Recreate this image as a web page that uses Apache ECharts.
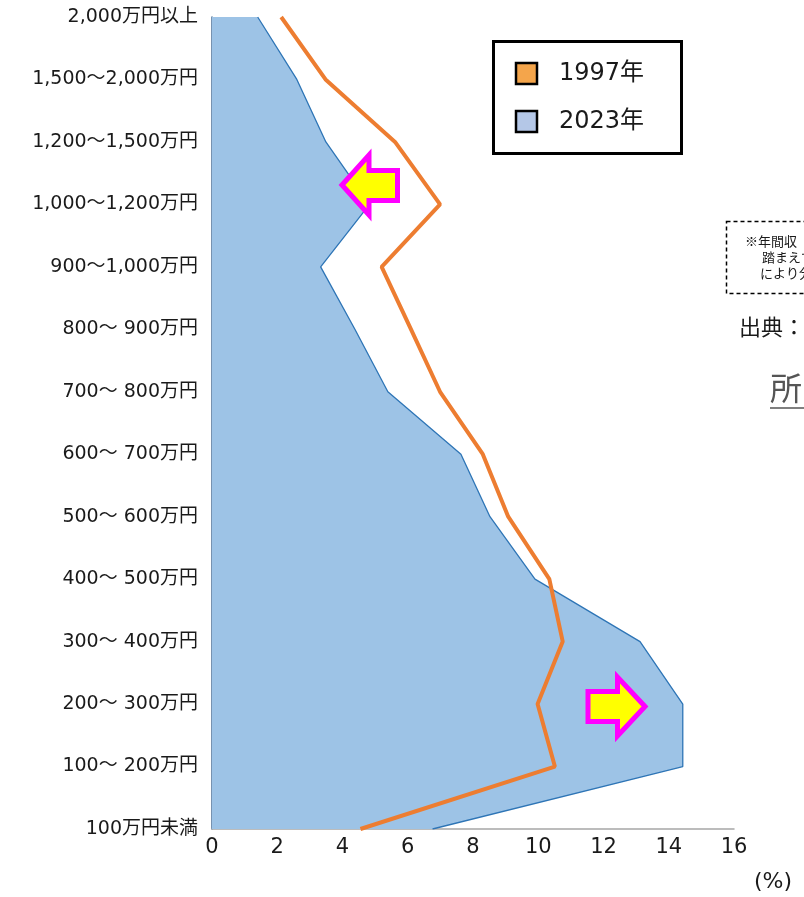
<!DOCTYPE html>
<html>
<head>
<meta charset="utf-8">
<script src="https://cdn.jsdelivr.net/npm/echarts@6/dist/echarts.min.js"></script>
<style>
html,body{margin:0;padding:0;background:#fff;}
#c{width:804px;height:897px;}
</style>
</head>
<body>
<div id="c"></div>
<script>
const categories = ['100万円未満','100～ 200万円','200～ 300万円','300～ 400万円','400～ 500万円','500～ 600万円','600～ 700万円','700～ 800万円','800～ 900万円','900～1,000万円','1,000～1,200万円','1,200～1,500万円','1,500～2,000万円','2,000万円以上'];
const values1997 = [4.55, 10.51, 9.98, 10.75, 10.34, 9.08, 8.30, 6.99, 6.10, 5.20, 6.99, 5.61, 3.48, 2.12];
const values2023 = [6.76, 14.43, 14.43, 13.12, 9.90, 8.52, 7.63, 5.39, 4.38, 3.33, 4.83, 3.49, 2.60, 1.40];
const xTicks = {min: 0, max: 16, interval: 2};

const chart = echarts.init(document.getElementById('c'));
const latin = '"DejaVu Sans", "Noto Sans CJK JP", sans-serif';
chart.setOption({
  animation: false,
  grid: {left: 212, right: 70, top: 17, bottom: 68, containLabel: false},
  xAxis: {
    type: 'value', min: xTicks.min, max: xTicks.max, interval: xTicks.interval,
    axisLine: {show: true, lineStyle: {color: '#a6a6a6', width: 1.5}},
    axisTick: {show: false},
    splitLine: {show: false},
    axisLabel: {color: '#1a1a1a', fontSize: 21, fontFamily: latin, margin: 8}
  },
  yAxis: {
    type: 'category', data: categories, boundaryGap: false,
    axisLine: {show: true, lineStyle: {color: '#4a6e96', width: 1.5}},
    axisTick: {show: false},
    splitLine: {show: false},
    axisLabel: {color: '#1a1a1a', fontSize: 19, fontFamily: latin, margin: 14}
  },
  series: [
    {
      name: '2023年', type: 'line', data: values2023, symbol: 'none',
      lineStyle: {color: '#2e75b6', width: 1.3},
      areaStyle: {color: '#9dc3e6', opacity: 1},
      z: 2
    },
    {
      name: '1997年', type: 'line', data: values1997, symbol: 'none',
      lineStyle: {color: '#ed7d31', width: 4},
      z: 3
    }
  ],
  graphic: [
    // legend box
    {type: 'rect', shape: {x: 493.5, y: 41.5, width: 188, height: 112}, style: {fill: '#fff', stroke: '#000', lineWidth: 3}, z: 10},
    {type: 'rect', shape: {x: 516, y: 63, width: 21, height: 21}, style: {fill: '#f4a54b', stroke: '#000', lineWidth: 2.5}, z: 11},
    {type: 'text', x: 559, y: 74, style: {text: '1997年', fill: '#1a1a1a', font: '24px "DejaVu Sans", "Noto Sans CJK JP"', textVerticalAlign: 'middle'}, z: 11},
    {type: 'rect', shape: {x: 516, y: 111, width: 21, height: 21}, style: {fill: '#b4c7e7', stroke: '#000', lineWidth: 2.5}, z: 11},
    {type: 'text', x: 559, y: 122, style: {text: '2023年', fill: '#1a1a1a', font: '24px "DejaVu Sans", "Noto Sans CJK JP"', textVerticalAlign: 'middle'}, z: 11},
    // arrows
    {type: 'polygon', shape: {points: [[342,185],[369,155],[369,170.5],[397.5,170.5],[397.5,200.5],[369,200.5],[369,215]]}, style: {fill: '#ffff00', stroke: '#ff00ff', lineWidth: 5, lineJoin: 'miter'}, z: 12},
    {type: 'polygon', shape: {points: [[645,706.5],[617.5,677],[617.5,691.5],[588,691.5],[588,721.5],[617.5,721.5],[617.5,736]]}, style: {fill: '#ffff00', stroke: '#ff00ff', lineWidth: 5, lineJoin: 'miter'}, z: 12},
    // unit
    {type: 'text', x: 754, y: 882, style: {text: '(%)', fill: '#1a1a1a', font: '22px "DejaVu Sans"', textVerticalAlign: 'middle'}, z: 11},
    // cut-off note box at right
    {type: 'rect', shape: {x: 726.5, y: 221.5, width: 90, height: 72}, style: {fill: 'none', stroke: '#000', lineWidth: 1.5, lineDash: [4, 3]}, z: 11},
    {type: 'text', x: 745, y: 241, style: {text: '※年間収', fill: '#1a1a1a', font: '13px "Noto Sans CJK JP"', textVerticalAlign: 'middle'}, z: 11},
    {type: 'text', x: 762, y: 257, style: {text: '踏まえて', fill: '#1a1a1a', font: '13px "Noto Sans CJK JP"', textVerticalAlign: 'middle'}, z: 11},
    {type: 'text', x: 760, y: 273, style: {text: 'により分', fill: '#1a1a1a', font: '13px "Noto Sans CJK JP"', textVerticalAlign: 'middle'}, z: 11},
    {type: 'text', x: 739, y: 327, style: {text: '出典：', fill: '#1a1a1a', font: '22px "Noto Sans CJK JP"', textVerticalAlign: 'middle'}, z: 11},
    {type: 'text', x: 770, y: 388, style: {text: '所', fill: '#555', font: '32px "Noto Sans CJK JP"', textVerticalAlign: 'middle'}, z: 11},
    {type: 'line', shape: {x1: 770, y1: 408, x2: 804, y2: 408}, style: {stroke: '#555', lineWidth: 1.5}, z: 11}
  ]
});
</script>
</body>
</html>
